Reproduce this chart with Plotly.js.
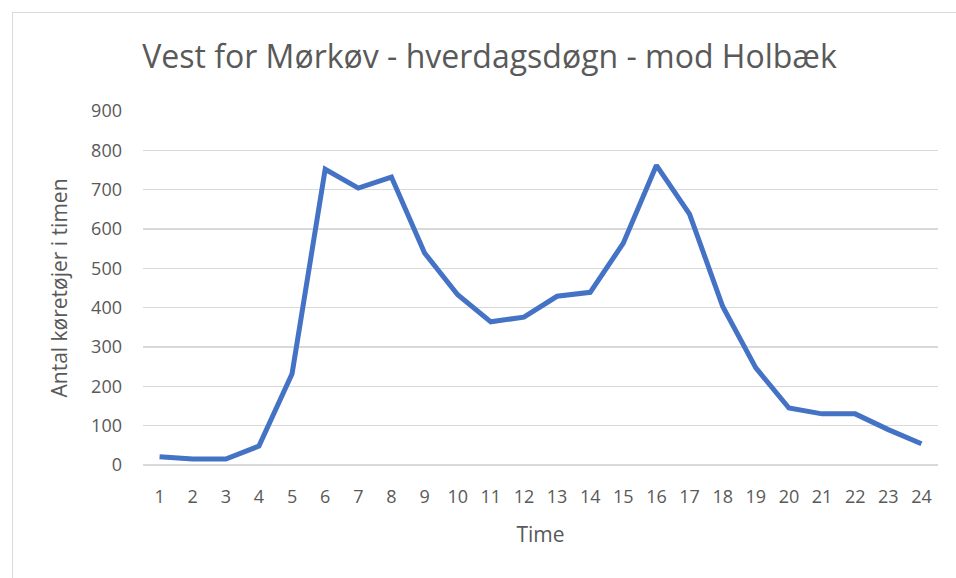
<!DOCTYPE html>
<html>
<head>
<meta charset="utf-8">
<script src="https://cdn.plot.ly/plotly-3.0.1.min.js"></script>
<style>
  body { margin: 0; background: #fff; }
  #wrap { position: relative; width: 956px; height: 578px; }
  #chart { width: 956px; height: 578px; }
  #frame {
    position: absolute; left: 12px; top: 12px; right: 0; bottom: 0;
    border-left: 1px solid #d9d9d9; border-top: 1px solid #d9d9d9;
    pointer-events: none;
  }
</style>
</head>
<body>
<div id="wrap">
  <div id="chart"></div>
  <div id="frame"></div>
</div>
<script>
const hours = ["1", "2", "3", "4", "5", "6", "7", "8", "9", "10", "11", "12",
               "13", "14", "15", "16", "17", "18", "19", "20", "21", "22", "23", "24"];
const vehicles = [21, 15, 15, 48, 232, 752, 704, 732, 539, 433, 364, 376,
                  429, 439, 564, 762, 638, 403, 247, 145, 130, 130, 90, 54];

const textColor = "#595959";
const fontFamily = "'Open Sans', 'Noto Sans', sans-serif";

const data = [{
    x: hours,
    y: vehicles,
    type: 'scatter',
    mode: 'lines',
    line: { color: '#4472C4', width: 5 },
    showlegend: false
}];

const layout = {
    width: 956,
    height: 578,
    margin: { l: 143, r: 18, t: 111, b: 113 },
    paper_bgcolor: '#fff',
    plot_bgcolor: '#fff',
    font: { family: fontFamily, color: textColor },
    title: {
        text: 'Vest for Mørkøv - hverdagsdøgn - mod Holbæk',
        font: { size: 32, color: textColor, family: fontFamily },
        xref: 'container', x: 0.512, xanchor: 'center',
        yref: 'container', y: 0.902, yanchor: 'middle'
    },
    xaxis: {
        type: 'category',
        range: [-0.5, 23.5],
        showgrid: false,
        showline: false,
        zeroline: false,
        ticks: '',
        ticklabelstandoff: 19,
        tickfont: { size: 18, color: textColor },
        title: { text: 'Time', font: { size: 21, color: textColor }, standoff: 20 }
    },
    yaxis: {
        range: [0, 900],
        dtick: 100,
        showgrid: true,
        gridcolor: '#d9d9d9',
        gridwidth: 1.5,
        zeroline: true,
        zerolinecolor: '#d9d9d9',
        zerolinewidth: 1.5,
        showline: false,
        ticks: '',
        ticklen: 0,
        ticklabelstandoff: 20,
        tickfont: { size: 18, color: textColor },
        title: { text: 'Antal køretøjer i timen', font: { size: 21, color: textColor }, standoff: 17 }
    }
};

Plotly.newPlot('chart', data, layout, { displayModeBar: false, staticPlot: true });
</script>
</body>
</html>
